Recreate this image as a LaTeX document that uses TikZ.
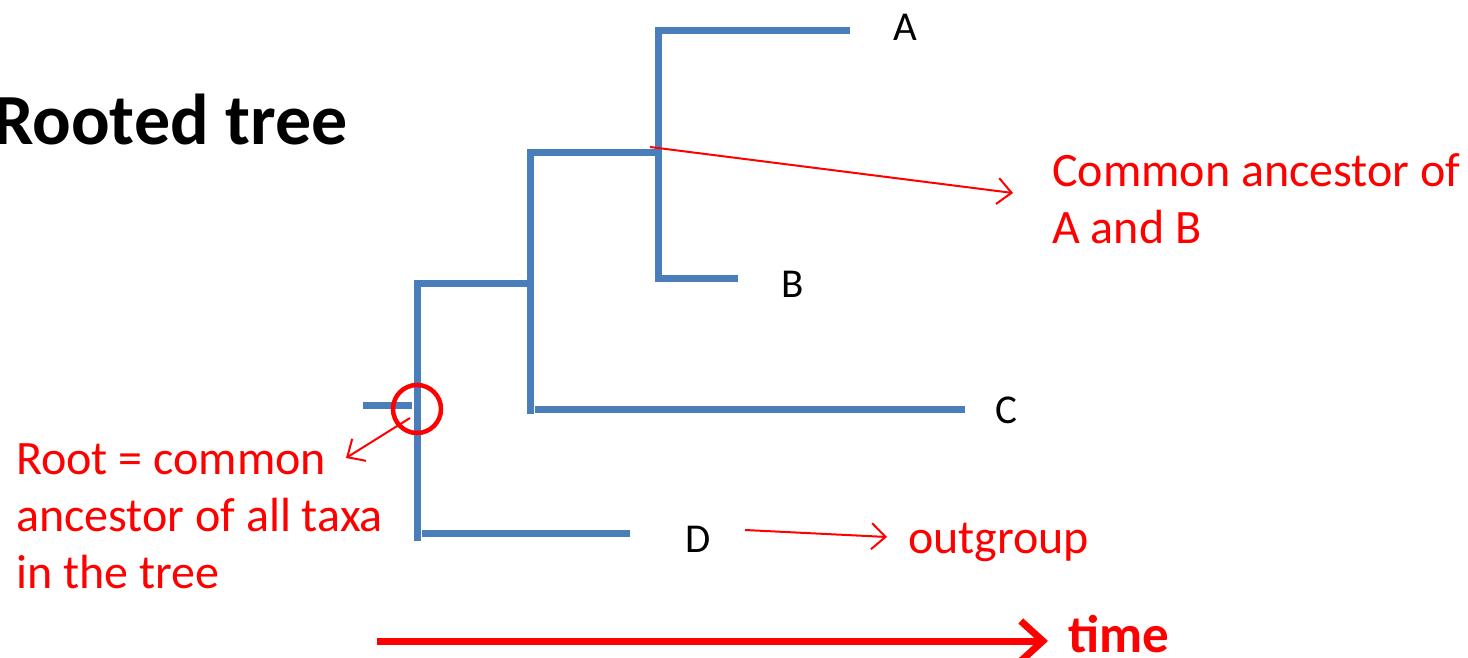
\documentclass[tikz,border=0pt]{standalone}
\usepackage{fontspec}
\setmainfont{Carlito}
\usetikzlibrary{arrows.meta}
\definecolor{treeblue}{RGB}{74,126,187}
\definecolor{annred}{RGB}{255,0,0}
\tikzset{
  branch/.style={draw=treeblue, line width=7pt},
  taxon/.style={anchor=base, font=\fontsize{41}{48}\selectfont, text=black, inner sep=0pt},
  note/.style={anchor=base west, font=\fontsize{48}{57}\selectfont, text=annred, inner sep=0pt, align=left},
  pointer/.style={draw=annred, line width=2pt, -{Straight Barb[length=14pt,width=26pt,line width=2pt]}},
}
\begin{document}
\begin{tikzpicture}[x=1pt,y=-1pt]
\useasboundingbox (0,0) rectangle (1468,658);
% title
\node[anchor=base west, inner sep=0pt, font=\fontsize{72}{80}\selectfont\bfseries] (title) at (-7,145) {Rooted tree};
% tree coordinates
\coordinate (aTop) at (658,31);
\coordinate (aEnd) at (846,31);
\coordinate (bBot) at (658,278);
\coordinate (bEnd) at (734,278);
\coordinate (abJ) at (658,153);
\coordinate (abcTop) at (530,153);
\coordinate (abcBot) at (530,410);
\coordinate (cStart) at (535,409);
\coordinate (cEnd) at (965,409);
\coordinate (abcJ) at (530,283);
\coordinate (rootTop) at (417,283);
\coordinate (rootBot) at (417,537);
\coordinate (dStart) at (422,533);
\coordinate (dEnd) at (630,533);
\coordinate (stemL) at (363,405);
\coordinate (stemR) at (412,405);
\draw[branch, line cap=rect] (aEnd) -- (aTop) -- (bBot) -- (bEnd);
\draw[branch] (abcTop) -- (abJ);
\draw[branch, line cap=rect] (abJ) -- (abcTop) -- (abcBot);
\draw[branch] (cStart) -- (cEnd);
\draw[branch, line cap=rect] (abcJ) -- (rootTop) -- (rootBot);
\draw[branch] (dStart) -- (dEnd);
\draw[branch] (stemL) -- (stemR);
% taxa labels
\node[taxon] (A) at (905,41) {A};
\node[taxon] (B) at (793,297) {B};
\node[taxon] (C) at (1006,423) {C};
\node[taxon] (D) at (698,552) {D};
% root circle
\node[draw=annred, line width=4.5pt, circle, minimum size=48pt, inner sep=0pt] (rootc) at (417,409) {};
% annotations
\node[note] (anc) at (1052,243) {Common ancestor of\\A and B};
\node[note] (rootnote) at (16,588) {Root = common\\ancestor of all taxa\\in the tree};
\node[note] (out) at (908,553) {outgroup};
\coordinate (ancFrom) at (650,147);
\coordinate (ancTo) at (1013,193);
\coordinate (rootFrom) at (410,418);
\coordinate (rootTo) at (346,458);
\coordinate (dFrom) at (745,530);
\coordinate (dTo) at (887,537);
\draw[pointer] (ancFrom) -- (ancTo);
\draw[pointer] (rootFrom) -- (rootTo);
\draw[pointer] (dFrom) -- (dTo);
% time axis
\node[anchor=base west, inner sep=0pt, text=annred, font=\fontsize{53}{60}\selectfont\bfseries] (time) at (1068,652) {time};
\coordinate (tStart) at (377,641);
\coordinate (tEnd) at (1048,641);
\draw[draw=annred, line width=7pt, -{Straight Barb[length=22pt,width=40pt,line width=7pt]}] (tStart) -- (tEnd);
\end{tikzpicture}
\end{document}
